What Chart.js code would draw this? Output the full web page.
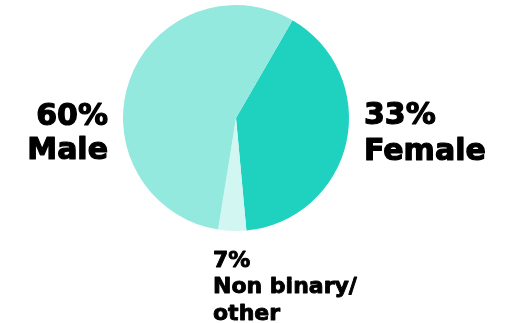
<!DOCTYPE html>
<html><head><meta charset="utf-8">
<script src="https://cdn.jsdelivr.net/npm/chart.js@4/dist/chart.umd.min.js"></script>
<style>html,body{margin:0;padding:0;background:#fff}#c{display:block}</style>
</head><body>
<canvas id="c" width="510" height="323"></canvas>
<script>
const categories = ["Female", "Non binary/other", "Male"];
const sliceValues = [40.2, 4.0, 55.8];
const labelPercents = ["33%", "7%", "60%"];
const labelNames = [["Female"], ["Non binary/", "other"], ["Male"]];
const colors = ["#1ED2BF", "#D2F6F2", "#94E9DF"];

const textPlugin = {
  id: 'texts',
  afterDraw(chart) {
    const ctx = chart.ctx;
    ctx.save();
    ctx.fillStyle = '#000';
    ctx.strokeStyle = '#000';
    ctx.lineJoin = 'round';
    ctx.textBaseline = 'alphabetic';
    const put = (t, x, y, lw) => { ctx.lineWidth = lw; ctx.strokeText(t, x, y); ctx.fillText(t, x, y); };
    ctx.font = 'bold 30px "DejaVu Sans"';
    ctx.textAlign = 'right';
    put(labelPercents[2], 108, 125, 1.2);
    put(labelNames[2][0], 108, 159, 1.2);
    ctx.textAlign = 'left';
    put(labelPercents[0], 364, 124, 1.2);
    put(labelNames[0][0], 364, 160, 1.2);
    ctx.font = 'bold 22px "DejaVu Sans"';
    put(labelPercents[1], 213, 267, 0.9);
    put(labelNames[1][0], 213, 293, 0.9);
    put(labelNames[1][1], 213, 320, 0.9);
    ctx.restore();
  }
};

new Chart(document.getElementById('c'), {
  type: 'pie',
  data: {
    labels: categories,
    datasets: [{ data: sliceValues, backgroundColor: colors, borderWidth: 0, hoverOffset: 0 }]
  },
  options: {
    responsive: false,
    animation: false,
    rotation: 30,
    layout: { padding: { left: 123, right: 161, top: 5, bottom: 92 } },
    plugins: { legend: { display: false }, tooltip: { enabled: false } }
  },
  plugins: [textPlugin]
});
</script>
</body></html>
